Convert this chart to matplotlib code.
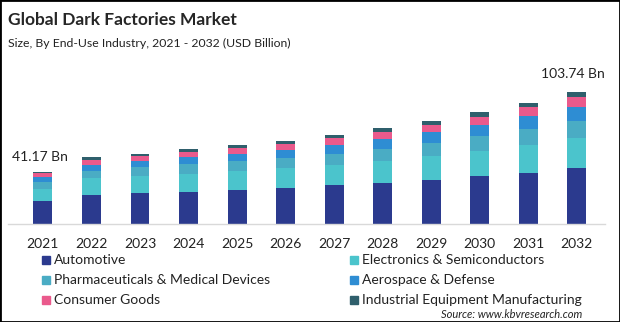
import matplotlib
matplotlib.use("Agg")
import numpy as np
from matplotlib import pyplot as plt
from matplotlib.patches import Rectangle

plt.rcParams["font.family"] = ["Lato", "DejaVu Sans"]

years = ["2021", "2022", "2023", "2024", "2025", "2026",
         "2027", "2028", "2029", "2030", "2031", "2032"]

industries = ["Automotive", "Electronics & Semiconductors",
              "Pharmaceuticals & Medical Devices", "Aerospace & Defense",
              "Consumer Goods", "Industrial Equipment Manufacturing"]

automotive = [18.0, 23.0, 24.6, 25.5, 26.7, 28.3, 30.7, 32.2, 34.6, 37.7, 40.1, 43.94]
electronics = [9.7, 12.8, 12.8, 13.8, 14.9, 15.7, 15.7, 17.3, 18.9, 19.7, 22.0, 23.6]
pharma = [5.7, 6.1, 7.1, 7.5, 7.9, 8.1, 8.6, 9.4, 10.2, 11.8, 12.6, 13.4]
aerospace = [3.8, 4.5, 5.3, 5.5, 5.7, 6.1, 7.1, 7.9, 8.6, 8.6, 10.2, 11.0]
consumer = [2.6, 4.2, 3.9, 4.3, 4.7, 5.0, 5.5, 5.5, 5.5, 6.3, 7.1, 7.9]
industrial = [1.37, 1.8, 1.6, 2.0, 2.4, 2.1, 2.6, 3.4, 3.1, 3.9, 3.1, 3.9]

colors = ["#2B3A8E", "#4BC4CC", "#4AACC4", "#2E8DD3", "#EA5A8C", "#2F5F6C"]

series = [automotive, electronics, pharma, aerospace, consumer, industrial]

fig = plt.figure(figsize=(6.2, 3.22), dpi=100)
ax = fig.add_axes([8 / 620, 98 / 322, 597 / 620, 164 / 322])

x = np.arange(len(years))
bottom = np.zeros(len(years))
for vals, color, name in zip(series, colors, industries):
    ax.bar(x, vals, width=0.39, bottom=bottom, color=color, label=name)
    bottom += np.array(vals)

totals = bottom
ax.annotate(f"{totals[0]:.2f} Bn", (x[0], totals[0]), textcoords="offset points",
            xytext=(-2, 6), ha="center", va="bottom", fontsize=10, color="#222222")
ax.annotate(f"{totals[-1]:.2f} Bn", (x[-1], totals[-1]), textcoords="offset points",
            xytext=(-3, 9), ha="center", va="bottom", fontsize=10, color="#222222")

ax.set_xlim(-0.72, 11.58)
ax.set_ylim(0, 128.9)
ax.set_xticks(x, years)
ax.tick_params(axis="x", length=0, pad=10, labelsize=10, labelcolor="#222222")
ax.set_yticks([])
for side in ["top", "left", "right"]:
    ax.spines[side].set_visible(False)
ax.spines["bottom"].set_color("#D9D9D9")
ax.spines["bottom"].set_linewidth(1.0)

fig.text(8 / 620, 1 - 20 / 322, "Global Dark Factories Market", fontsize=12.5,
         fontweight="bold", color="#262626", va="center")
fig.text(8 / 620, 1 - 43 / 322, "Size, By End-Use Industry, 2021 - 2032 (USD Billion)",
         fontsize=8.8, color="#222222", va="center")

# legend laid out by hand in two columns
col_x = [42, 350]
row_y = [260, 280, 300]
for i, (name, color) in enumerate(zip(industries, colors)):
    cx = col_x[i % 2]
    cy = row_y[i // 2]
    fig.patches.append(Rectangle((cx / 620, 1 - (cy + 4) / 322), 8 / 620, 8 / 322,
                                 transform=fig.transFigure, color=color))
    fig.text((cx + 12) / 620, 1 - cy / 322, name, fontsize=10, color="#222222",
             va="center")

fig.text(582 / 620, 1 - 314 / 322, "Source: www.kbvresearch.com", fontsize=8,
         style="italic", color="#222222", ha="right", va="center")

fig.patches.append(Rectangle((0, 0), 1, 1, transform=fig.transFigure,
                             fill=False, edgecolor="black", linewidth=2))

fig.savefig("out.png", facecolor="white")
